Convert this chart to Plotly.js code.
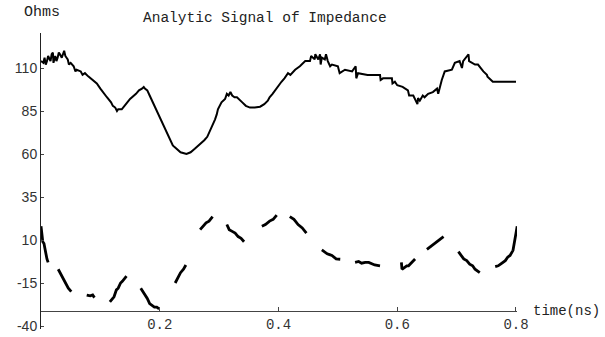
<!DOCTYPE html>
<html>
<head>
<meta charset="utf-8">
<script src="https://cdn.plot.ly/plotly-3.0.1.min.js"></script>
<style>html,body{margin:0;padding:0;background:#fff;}#chart{width:605px;height:337px;}</style>
</head>
<body>
<div id="chart"></div>
<script>
// Upper trace: impedance magnitude (Ohms) vs time (ns) (noisy, stair-stepped)
var upperT = [0.000,0.004,0.006,0.008,0.010,0.012,0.016,0.018,0.020,0.021,0.024,0.026,0.028,0.030,0.032,0.035,0.037,0.039,0.041,0.045,0.047,0.050,0.055,0.058,0.060,0.067,0.070,0.074,0.080,0.087,0.094,0.100,0.106,0.111,0.118,0.121,0.125,0.128,0.130,0.136,0.143,0.150,0.160,0.165,0.170,0.173,0.175,0.179,0.183,0.187,0.192,0.197,0.203,0.209,0.216,0.222,0.225,0.235,0.245,0.252,0.259,0.269,0.275,0.280,0.287,0.293,0.296,0.298,0.304,0.310,0.313,0.316,0.319,0.322,0.326,0.330,0.339,0.345,0.352,0.360,0.369,0.376,0.382,0.385,0.390,0.394,0.399,0.405,0.410,0.416,0.420,0.428,0.436,0.441,0.445,0.453,0.455,0.461,0.462,0.467,0.470,0.471,0.473,0.478,0.480,0.483,0.487,0.490,0.500,0.503,0.512,0.524,0.530,0.531,0.534,0.550,0.571,0.572,0.576,0.591,0.592,0.596,0.600,0.609,0.618,0.620,0.627,0.634,0.635,0.638,0.643,0.646,0.652,0.660,0.667,0.669,0.672,0.675,0.680,0.692,0.697,0.705,0.709,0.711,0.720,0.721,0.731,0.736,0.745,0.751,0.752,0.761,0.800];
var upperV = [114,113,116,112,114,117,114,118,119,113,117,114,116,119,118,116,118,120,117,115,112,113,111,108,109,108,106,107,105,103,101,98,95,93,90,88,87,85,86,86,89,92,95,97,98,99,98,97,94,91,87,83,79,75,69,65,64,61,60,61,63,66,68,70,75,80,83,86,90,92,95,94,96,94,93,93,90,88,87,87,87.5,89,91,93,95,97,99,102,104,107,106,109,111,113,114,114,117,115,118,115,118,112,116,115,118,114,111,112,111,107,109,108,111,104,107,106,106,103,104,104,101,102,100,99,97,94,94,89,92.5,91,94,93,95,96,98,95,100,103,108,109,113,114,110,114,118,114,112,112,108,106,105,102,102,102];

// Lower trace: broken segments (null = gap)
var lowerT = [0.000,0.002,0.003,0.005,0.007,0.010,0.012,null,
              0.029,0.032,0.035,0.039,0.042,0.046,0.051,null,
              0.077,0.083,0.087,0.090,null,
              0.116,0.120,0.123,0.127,0.130,0.134,0.137,0.144,null,
              0.168,0.172,0.175,0.179,0.183,0.187,0.191,0.195,0.199,null,
              0.226,0.230,0.235,0.240,0.244,null,
              0.268,0.273,0.278,0.283,0.289,null,
              0.313,0.317,0.322,0.327,0.332,0.337,0.342,null,
              0.372,0.378,0.385,0.391,0.397,null,
              0.419,0.426,0.433,0.440,0.447,null,
              0.473,0.477,0.482,0.486,0.490,0.497,0.504,null,
              0.529,0.535,0.540,0.546,0.552,0.557,0.562,0.571,null,
              0.607,0.608,0.612,0.616,0.619,0.622,0.630,null,
              0.650,0.655,0.660,0.664,0.670,0.678,null,
              0.703,0.708,0.712,0.717,0.722,0.727,0.731,0.739,null,
              0.765,0.770,0.774,0.778,0.782,0.786,0.790,0.795,0.798,0.800,0.802];
var lowerV = [18,12,9,8,4,-1,-3,null,
              -7,-9,-11,-13,-15,-18,-20,null,
              -22,-22.5,-22,-23.5,null,
              -26,-24,-23,-19,-18,-15,-14,-11,null,
              -18,-20,-22,-24,-27,-28,-29,-29,-30,null,
              -15,-12,-9,-7,-4.5,null,
              16,18,20,21,23.6,null,
              19,16,15,14,12,11,9,null,
              18,19,21,22,24.5,null,
              23.6,22,19,17,14,null,
              4.2,3,2,1.5,1,-1,-1.2,null,
              -3,-2.5,-3.5,-3,-3,-4,-4.5,-5,null,
              -3,-7,-6,-5,-5,-4,-1,null,
              4.6,6,7,8,10,12,null,
              3.2,1,-1,-2,-4,-5,-7,-9,null,
              -5.5,-5,-4,-3,-2,0,1,4,9,14,18];

var xTicks = [0.2, 0.4, 0.6, 0.8];
var xTickText = ['0.2', '0.4', '0.6', '0.8'];
var yTicks = [110, 85, 60, 35, 10, -15, -40];
var yTickText = ['110', '85', '60', '35', '10', '-15', '-40'];

var traces = [
  {x: upperT, y: upperV, mode: 'lines', line: {color: '#000', width: 2}, hoverinfo: 'skip'},
  {x: lowerT, y: lowerV, mode: 'lines', connectgaps: false, line: {color: '#000', width: 2.8}, hoverinfo: 'skip'}
];

var mono = 'Liberation Mono, Courier New, monospace';
var layout = {
  width: 605, height: 337,
  margin: {l: 41, r: 88, t: 33, b: 8},
  paper_bgcolor: '#fff', plot_bgcolor: '#fff',
  showlegend: false,
  xaxis: {
    range: [0, 0.8017],
    anchor: 'free', position: 0.0608,
    showline: true, linecolor: '#444', linewidth: 1,
    showgrid: false, zeroline: false,
    tickvals: xTicks, ticktext: xTickText,
    ticks: 'inside', ticklen: 4, tickcolor: '#444',
    tickfont: {family: mono, size: 14, color: '#333'},
    fixedrange: true
  },
  yaxis: {
    range: [-41.74, 130.35],
    showline: true, linecolor: '#222', linewidth: 1,
    showgrid: false, zeroline: false,
    tickvals: yTicks, ticktext: yTickText,
    ticks: 'inside', ticklen: 3, tickcolor: '#444',
    tickfont: {family: 'Liberation Sans, Arial, sans-serif', size: 14, color: '#333'},
    fixedrange: true
  },
  annotations: [
    {text: 'Analytic Signal of Impedance', xref: 'paper', yref: 'paper', x: 0.5, y: 1, xanchor: 'center', yanchor: 'middle', xshift: -14, yshift: 15, showarrow: false, font: {family: mono, size: 14.5, color: '#222'}},
    {text: 'Ohms', xref: 'paper', yref: 'paper', x: 0, y: 1, xanchor: 'left', yanchor: 'middle', xshift: -19, yshift: 21, showarrow: false, font: {family: mono, size: 15, color: '#222'}},
    {text: 'time(ns)', xref: 'paper', yref: 'paper', x: 1, y: 0.0608, xanchor: 'left', yanchor: 'middle', xshift: 14, yshift: 0, showarrow: false, font: {family: mono, size: 14, color: '#222'}}
  ]
};

Plotly.newPlot('chart', traces, layout, {staticPlot: true, displayModeBar: false});
</script>
</body>
</html>
